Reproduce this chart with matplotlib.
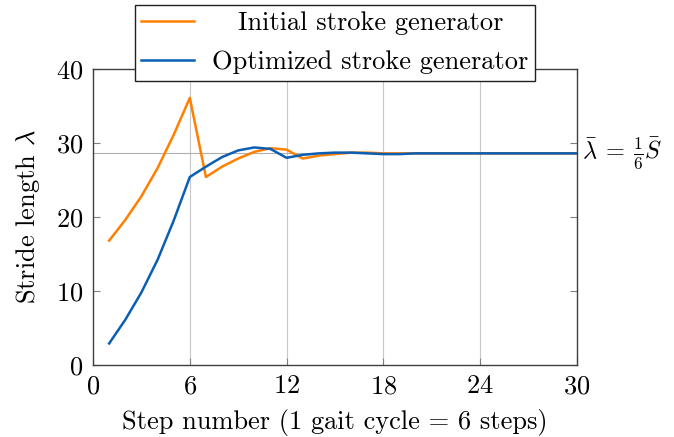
import matplotlib
matplotlib.use("Agg")
import matplotlib.pyplot as plt
import numpy as np

plt.rcParams['font.family'] = 'serif'
plt.rcParams['font.serif'] = ['cmr10']
plt.rcParams['mathtext.fontset'] = 'cm'
plt.rcParams['axes.formatter.use_mathtext'] = True

# Dados
steps = np.arange(1, 31)
initial = [16.8, 19.6, 22.8, 26.6, 31.1, 36.1, 25.4, 26.8, 27.9, 28.8,
           29.3, 29.1, 27.9, 28.3, 28.5, 28.7, 28.7, 28.6, 28.6, 28.6,
           28.6, 28.6, 28.6, 28.6, 28.6, 28.6, 28.6, 28.6, 28.6, 28.6]
optimized = [2.9, 6.1, 9.8, 14.2, 19.5, 25.4, 26.8, 28.1, 29.0, 29.4,
             29.2, 28.0, 28.4, 28.6, 28.7, 28.7, 28.6, 28.5, 28.5, 28.6,
             28.6, 28.6, 28.6, 28.6, 28.6, 28.6, 28.6, 28.6, 28.6, 28.6]
lambda_bar = 28.6
labels = ["Initial stroke generator", "Optimized stroke generator"]
x_ticks = [0, 6, 12, 18, 24, 30]
y_ticks = [0, 10, 20, 30, 40]

fs = 19

fig = plt.figure(figsize=(6.74, 4.37), dpi=100)
ax = fig.add_axes([0.138, 0.165, 0.718, 0.677])

# Grade vertical e linha de referência
for xt in x_ticks[1:-1]:
    ax.axvline(xt, color='#c8c8c8', lw=0.8, zorder=0)
ax.axhline(lambda_bar, color='#b0b0b0', lw=0.8, zorder=0)

ax.plot(steps, initial, color='#ff8000', lw=1.8, label=labels[0])
ax.plot(steps, optimized, color='#0a5fb4', lw=1.8, label=labels[1])

ax.set_xlim(0, 30)
ax.set_ylim(0, 40)
ax.set_xticks(x_ticks)
ax.set_yticks(y_ticks)
ax.tick_params(direction='in', length=5, color='#808080', labelsize=fs,
               top=True, right=True, pad=7)
for s in ax.spines.values():
    s.set_color('#404040')
    s.set_linewidth(1.0)

ax.set_xlabel("Step number (1 gait cycle = 6 steps)", fontsize=fs, labelpad=8)
ax.set_ylabel(r"Stride length $\lambda$", fontsize=fs, labelpad=10)

ax.text(30.3, lambda_bar, r"$\bar{\lambda}\:=\:\frac{1}{6}\bar{S}$",
        fontsize=17.5, va='center', ha='left')

leg = ax.legend(loc='upper center', bbox_to_anchor=(0.5, 1.216), fontsize=fs,
                frameon=True, fancybox=False, edgecolor='#202020',
                framealpha=1, handlelength=2.0, borderpad=0.25,
                labelspacing=0.57, handletextpad=0.7, borderaxespad=0)
leg.get_frame().set_linewidth(1.0)

# Centralizando os textos da legenda
fig.canvas.draw()
renderer = fig.canvas.get_renderer()
widths = [t.get_window_extent(renderer).width for t in leg.get_texts()]
wmax = max(widths)
for t, w in zip(leg.get_texts(), widths):
    t.set_position(((wmax - w) / 2, 0))

fig.savefig("out.png", dpi=100)
